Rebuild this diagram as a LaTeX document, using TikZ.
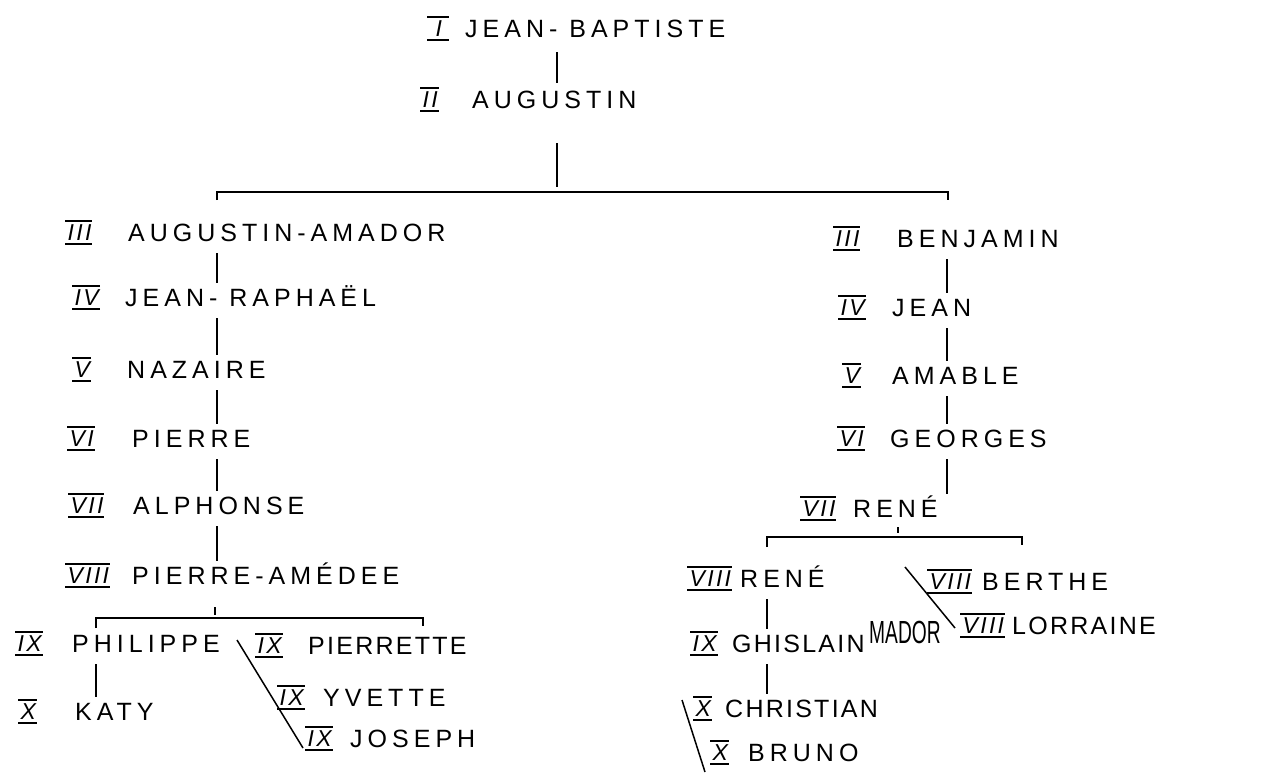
\documentclass[tikz,border=0pt]{standalone}
\usepackage{fontspec}
\setmainfont{Liberation Sans}
\newfontfamily\hand[LetterSpace=20]{Liberation Sans}
\newfontfamily\handtight[LetterSpace=9]{Liberation Sans}
\newfontfamily\numfont[LetterSpace=10]{Liberation Sans}
\newfontfamily\madorfont[FakeStretch=0.6]{Liberation Sans}
\newsavebox\rnbox
\newcommand{\rn}[1]{\sbox\rnbox{\numfont\itshape\fontsize{23}{23}\selectfont\kern2.5pt #1\kern1pt}%
  \rlap{\rule[-4.5pt]{\wd\rnbox}{1.4pt}}%
  \rlap{\rule[\dimexpr\ht\rnbox+2.5pt\relax]{\wd\rnbox}{1.4pt}}%
  \usebox\rnbox}
\begin{document}
\begin{tikzpicture}[x=1pt,y=-1pt,
  nm/.style={anchor=west, inner sep=0pt, text height=18pt, text depth=0pt, font={\hand\fontsize{25}{25}\selectfont}},
  nmt/.style={nm, font={\handtight\fontsize{25}{25}\selectfont}},
  num/.style={anchor=west, inner sep=0pt, text height=16pt, text depth=0pt},
  link/.style={line width=1.5pt},
  vlink/.style={link, shorten <=12pt, shorten >=5pt}]
\useasboundingbox (0,0) rectangle (1274,782);
% generation I and II
\node[num] (jbn) at (427,28) {\rn{\kern6pt I\kern6pt}};
\node[nm] (jb) at (465,28) {JEAN- BAPTISTE};
\node[num] (augn) at (420,99) {\rn{II}};
\node[nm] (aug) at (472,99) {AUGUSTIN};
\coordinate (c0) at (557,0);
\draw[link] ([yshift=-15pt]jb.south -| c0) -- ([yshift=7pt]aug.north -| c0);
\coordinate (barL) at (217,192);
\coordinate (barR) at (948,192);
\coordinate (barM) at (557,192);
\draw[link, shorten <=35pt] (aug.south -| c0) -- ([yshift=5pt]barM);
\draw[link] ([yshift=-8pt]barL) -- (barL) -- (barR) -- ([yshift=-8pt]barR);
% left branch
\coordinate (cL) at (217,0);
\node[num] (a3n) at (65,232) {\rn{III}};
\node[nm] (a3) at (128,232) {AUGUSTIN-AMADOR};
\node[num] (a4n) at (72,297) {\rn{IV}};
\node[nm] (a4) at (125,297) {JEAN- RAPHAËL};
\node[num] (a5n) at (72,369) {\rn{V}};
\node[nm] (a5) at (127,369) {NAZAIRE};
\node[num] (a6n) at (67,438) {\rn{VI}};
\node[nm] (a6) at (132,438) {PIERRE};
\node[num] (a7n) at (68,505) {\rn{VII}};
\node[nm] (a7) at (133,505) {ALPHONSE};
\node[num] (a8n) at (65,575) {\rn{VIII}};
\node[nm] (a8) at (132,575) {PIERRE-AMÉDEE};
\draw[vlink] (a3.south -| cL) -- (a4.north -| cL);
\draw[vlink] (a4.south -| cL) -- (a5.north -| cL);
\draw[vlink] (a5.south -| cL) -- (a6.north -| cL);
\draw[vlink] (a6.south -| cL) -- (a7.north -| cL);
\draw[vlink] (a7.south -| cL) -- (a8.north -| cL);
\coordinate (lbL) at (96,618);
\coordinate (lbR) at (423,618);
\coordinate (lbM) at (215,618);
\draw[link, shorten <=23pt] (a8.south -| lbM) -- ([yshift=3pt]lbM);
\draw[link] ([yshift=-10pt]lbL) -- (lbL) -- (lbR) -- ([yshift=-8pt]lbR);
\node[num] (p9n) at (15,643) {\rn{IX}};
\node[nm] (p9) at (72,643) {PHILIPPE};
\node[num] (k10n) at (18,711) {\rn{X}};
\node[nm] (k10) at (75,711) {KATY};
\draw[vlink] (p9.south -| lbL) -- (k10.north -| lbL);
\node[num] (pt9n) at (255,645) {\rn{IX}};
\node[nmt] (pt9) at (308,645) {PIERRETTE};
\node[num] (y9n) at (277,697) {\rn{IX}};
\node[nm] (y9) at (323,697) {YVETTE};
\node[num] (j9n) at (305,738) {\rn{IX}};
\node[nm] (j9) at (350,738) {JOSEPH};
\coordinate (dl1) at (237,640);
\coordinate (dl2) at (303,748);
\draw[link] (dl1) -- (dl2);
% right branch
\coordinate (cR) at (947,0);
\node[num] (b3n) at (833,238) {\rn{III}};
\node[nm] (b3) at (897,238) {BENJAMIN};
\node[num] (b4n) at (838,307) {\rn{IV}};
\node[nm] (b4) at (892,307) {JEAN};
\node[num] (b5n) at (842,375) {\rn{V}};
\node[nm] (b5) at (892,375) {AMABLE};
\node[num] (b6n) at (837,438) {\rn{VI}};
\node[nm] (b6) at (890,438) {GEORGES};
\node[num] (b7n) at (800,508) {\rn{VII}};
\node[nm] (b7) at (853,508) {RENÉ};
\draw[vlink] (b3.south -| cR) -- (b4.north -| cR);
\draw[vlink] (b4.south -| cR) -- (b5.north -| cR);
\draw[vlink] (b5.south -| cR) -- (b6.north -| cR);
\draw[vlink] (b6.south -| cR) -- (b7.north -| cR);
\coordinate (rbL) at (767,537);
\coordinate (rbR) at (1022,537);
\coordinate (rbM) at (898,537);
\draw[link, shorten <=10pt] (b7.south -| rbM) -- ([yshift=4pt]rbM);
\draw[link] ([yshift=-10pt]rbL) -- (rbL) -- (rbR) -- ([yshift=-8pt]rbR);
\node[num] (r8n) at (687,578) {\rn{VIII}};
\node[nm] (r8) at (740,578) {RENÉ};
\node[num] (g9n) at (690,643) {\rn{IX}};
\node[nmt] (g9) at (732,643) {GHISLAIN};
\node[anchor=west, inner sep=0pt, text height=23pt, text depth=0pt, font={\madorfont\fontsize{32}{32}\selectfont}] (mador) at (869,632) {MADOR};
\draw[vlink] (r8.south -| rbL) -- (g9.north -| rbL);
\node[num] (c10n) at (693,708) {\rn{X}};
\node[nmt] (c10) at (725,708) {CHRISTIAN};
\node[num] (br10n) at (710,752) {\rn{X}};
\node[nm] (br10) at (748,752) {BRUNO};
\draw[vlink] (g9.south -| rbL) -- (c10.north -| rbL);
\coordinate (dr1) at (682,700);
\coordinate (dr2) at (705,772);
\draw[link] (dr1) -- (dr2);
\node[num] (be8n) at (927,581) {\rn{VIII}};
\node[nm] (be8) at (982,581) {BERTHE};
\node[num] (lo8n) at (960,625) {\rn{VIII}};
\node[nmt] (lo8) at (1012,625) {LORRAINE};
\coordinate (ds1) at (905,567);
\coordinate (ds2) at (955,628);
\draw[link] (ds1) -- (ds2);
\end{tikzpicture}
\end{document}
